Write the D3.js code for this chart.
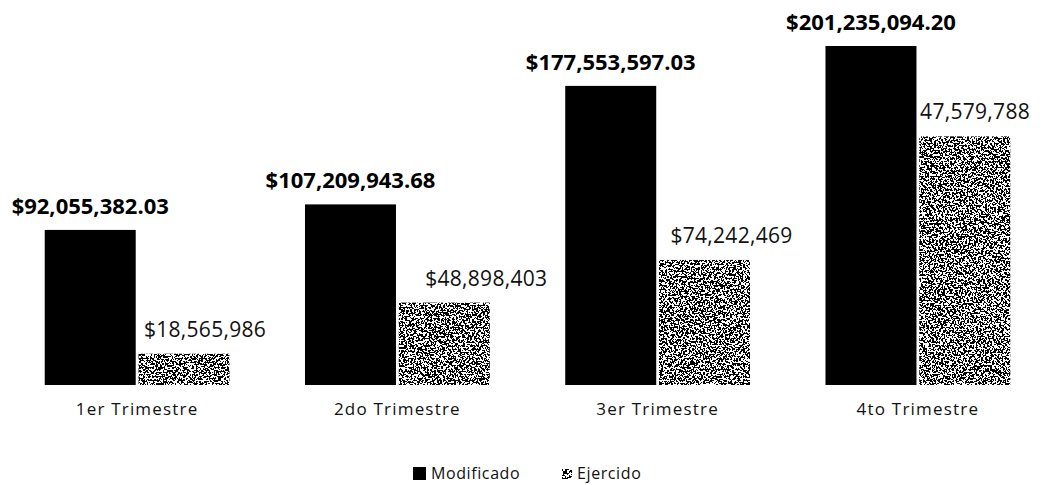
<!DOCTYPE html>
<html>
<head>
<meta charset="utf-8">
<script src="https://cdn.jsdelivr.net/npm/d3@7"></script>
<style>
  html, body { margin: 0; padding: 0; background: #fff; }
  #chart { width: 1043px; height: 485px; }
  text { font-family: "Open Sans", "DejaVu Sans", sans-serif; }
</style>
</head>
<body>
<div id="chart"></div>
<script>
// ===== データ =====
const categories = ['1er Trimestre', '2do Trimestre', '3er Trimestre', '4to Trimestre'];
const seriesNames = ['Modificado', 'Ejercido'];
const modificado = [92055382.03, 107209943.68, 177553597.03, 201235094.20];
const ejercido = [18565986, 48898403, 74242469, 147579788];

// Ejercido のラベルは手で動かしてある（棒の中心からのずれ）
const EJ_LABEL_DX = [21, 42, 27, -2];

const W = 1043, H = 485;
const BASE_Y = 385, TOP_Y = 46;

const svg = d3.select('#chart').append('svg')
  .attr('width', W).attr('height', H);

// ---- 砂目テクスチャ ----
const defs = svg.append('defs');
const f = defs.append('filter').attr('id', 'speckle')
  .attr('x', 0).attr('y', 0).attr('width', '100%').attr('height', '100%');
f.append('feTurbulence').attr('type', 'fractalNoise')
  .attr('baseFrequency', 0.55).attr('numOctaves', 2).attr('seed', 7).attr('result', 'n');
f.append('feColorMatrix').attr('in', 'n').attr('type', 'matrix')
  .attr('values', '0 0 0 0 0  0 0 0 0 0  0 0 0 0 0  2.2 0 0 0 -0.6').attr('result', 'a');
const ct = f.append('feComponentTransfer').attr('in', 'a').attr('result', 'b');
ct.append('feFuncA').attr('type', 'discrete').attr('tableValues', '0 1');
f.append('feComposite').attr('in', 'b').attr('in2', 'SourceGraphic').attr('operator', 'in');

const x0 = d3.scaleBand().domain(categories).range([7, 1048])
  .paddingInner(0.29).paddingOuter(0.145);
const x1 = d3.scaleBand().domain(seriesNames).range([0, x0.bandwidth()]).paddingInner(0.03);
const y = d3.scaleLinear().domain([0, d3.max(modificado)]).range([BASE_Y, TOP_Y]);

const g = svg.append('g');

// Ejercido bars
categories.forEach((c, i) => {
  const bx = x0(c) + x1('Ejercido');
  const by = y(ejercido[i]);
  g.append('rect')
    .attr('x', bx).attr('y', by)
    .attr('width', x1.bandwidth()).attr('height', BASE_Y - by)
    .attr('fill', '#fff');
  g.append('rect')
    .attr('x', bx).attr('y', by)
    .attr('width', x1.bandwidth()).attr('height', BASE_Y - by)
    .attr('fill', '#000')
    .attr('filter', 'url(#speckle)');
});

// Ejercido labels
const fmtInt = d3.format('$,.0f');
const fmtDec = d3.format('$,.2f');
categories.forEach((c, i) => {
  g.append('text')
    .attr('x', x0(c) + x1('Ejercido') + x1.bandwidth() / 2 + EJ_LABEL_DX[i])
    .attr('y', y(ejercido[i]) - 17)
    .attr('text-anchor', 'middle')
    .style('font-size', '21px')
    .style('letter-spacing', '0.3px')
    .attr('fill', '#111')
    .text(fmtInt(ejercido[i]));
});

// Modificado bars（Q4 のラベル頭はこの棒に隠れる）
g.selectAll('rect.mod')
  .data(modificado)
  .join('rect')
  .attr('class', 'mod')
  .attr('x', (d, i) => x0(categories[i]) + x1('Modificado'))
  .attr('y', d => y(d))
  .attr('width', x1.bandwidth())
  .attr('height', d => BASE_Y - y(d))
  .attr('fill', '#000');

// Modificado labels
g.selectAll('text.mod')
  .data(modificado)
  .join('text')
  .attr('class', 'mod')
  .attr('x', (d, i) => x0(categories[i]) + x1('Modificado') + x1.bandwidth() / 2)
  .attr('y', d => y(d) - 16)
  .attr('text-anchor', 'middle')
  .style('font-size', '22px')
  .style('font-weight', 'bold')
  .attr('fill', '#000')
  .text(d => fmtDec(d));

// カテゴリ軸
const xAxis = d3.axisBottom(x0).tickSize(0).tickPadding(0);
const ax = svg.append('g').attr('transform', `translate(0,${BASE_Y})`).call(xAxis);
ax.select('.domain').remove();
ax.selectAll('text')
  .attr('y', 30)
  .attr('dy', 0)
  .style('font-size', '17px')
  .style('letter-spacing', '1.2px')
  .style('font-family', '"Open Sans", sans-serif')
  .attr('fill', '#111');

// 凡例
const leg = svg.append('g');
leg.append('rect').attr('x', 413).attr('y', 467).attr('width', 13).attr('height', 13).attr('fill', '#000');
leg.append('text').attr('x', 431).attr('y', 479)
  .style('font-size', '16px').style('letter-spacing', '0.6px').attr('fill', '#111').text(seriesNames[0]);
leg.append('rect').attr('x', 562).attr('y', 469).attr('width', 10).attr('height', 10)
  .attr('fill', '#000').attr('filter', 'url(#speckle)');
leg.append('text').attr('x', 577).attr('y', 479)
  .style('font-size', '16px').style('letter-spacing', '0.6px').attr('fill', '#111').text(seriesNames[1]);
</script>
</body>
</html>
